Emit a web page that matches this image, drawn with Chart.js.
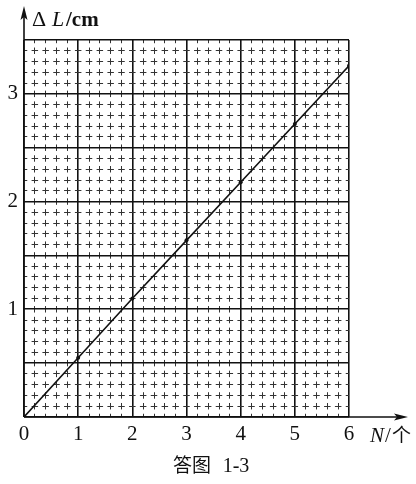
<!DOCTYPE html>
<html>
<head>
<meta charset="utf-8">
<script src="https://cdn.jsdelivr.net/npm/chart.js@4"></script>
<style>
  html, body { margin: 0; padding: 0; background: #fff; }
  #wrap { width: 416px; height: 484px; }
</style>
</head>
<body>
<div id="wrap"><canvas id="chart" width="416" height="484"></canvas></div>
<script>
// values
const nValues = [0, 1, 2, 3, 4, 5, 6];
const deltaL = [0, 0.55, 1.1, 1.64, 2.18, 2.72, 3.26];
const xTickLabels = ["0", "1", "2", "3", "4", "5", "6"];
const yTickLabels = ["1", "2", "3"];

const isInt = (v) => Math.abs(v - Math.round(v)) < 1e-6;
const isHalf = (v) => isInt(v * 2);

// axis arrows, axis titles and caption
const axisDecor = {
    id: "axisDecor",
    afterDraw(chart) {
        const ctx = chart.ctx;
        const x0 = chart.scales.x.getPixelForValue(0);
        const y0 = chart.scales.y.getPixelForValue(0);
        ctx.save();
        ctx.strokeStyle = "#111";
        ctx.fillStyle = "#111";
        ctx.lineWidth = 1.6;
        ctx.beginPath();
        ctx.moveTo(x0, y0);
        ctx.lineTo(x0, 14);
        ctx.moveTo(x0, y0);
        ctx.lineTo(400, y0);
        ctx.stroke();
        // arrow heads
        ctx.beginPath();
        ctx.moveTo(x0, 6);
        ctx.lineTo(x0 - 3.5, 20);
        ctx.lineTo(x0, 17);
        ctx.lineTo(x0 + 3.5, 20);
        ctx.closePath();
        ctx.fill();
        ctx.beginPath();
        ctx.moveTo(408, y0);
        ctx.lineTo(394, y0 - 3.5);
        ctx.lineTo(397, y0);
        ctx.lineTo(394, y0 + 3.5);
        ctx.closePath();
        ctx.fill();

        ctx.textBaseline = "alphabetic";
        ctx.textAlign = "left";
        // ΔL/cm
        ctx.font = "22px 'Liberation Serif'";
        ctx.fillText("Δ", 32, 26);
        ctx.font = "italic 22px 'Liberation Serif'";
        ctx.fillText("L", 52, 26);
        ctx.font = "bold 21px 'Liberation Serif'";
        ctx.fillText("/cm", 66, 26);
        // N/个
        ctx.font = "italic 21px 'Liberation Serif'";
        ctx.fillText("N", 370, 442);
        ctx.font = "21px 'Liberation Serif'";
        ctx.fillText("/", 385, 442);
        ctx.font = "19px 'Noto Sans CJK SC'";
        ctx.fillText("个", 392, 442);
        // caption
        ctx.textAlign = "center";
        ctx.font = "19px 'Noto Sans CJK SC'";
        ctx.fillText("答图", 192, 472);
        ctx.font = "20px 'Liberation Serif'";
        ctx.fillText("1-3", 236, 472);
        ctx.restore();
    },
};

// dashes centred on the minor grid crossings
const minorDash = (period) => [period * 0.6, period * 0.4];
const minorOffset = (period) => period * 0.3;

const canvas = document.getElementById("chart");
const chart = new Chart(canvas, {
    type: "line",
    data: {
        datasets: [
            {
                data: nValues.map((n, i) => ({ x: n, y: deltaL[i] })),
                borderColor: "#111",
                borderWidth: 1.6,
                pointRadius: 2,
                pointBackgroundColor: "#111",
                pointBorderColor: "#111",
                pointBorderWidth: 0,
                tension: 0,
            },
        ],
    },
    options: {
        responsive: false,
        animation: false,
        layout: { padding: { top: 40, right: 67, left: 0, bottom: 0 } },
        plugins: {
            legend: { display: false },
            tooltip: { enabled: false },
        },
        scales: {
            x: {
                type: "linear",
                min: 0,
                max: 6,
                afterFit: (s) => { s.height = 67; },
                afterBuildTicks: (s) => {
                    const t = [];
                    for (let i = 0; i <= 30; i++) t.push({ value: i / 5 });
                    s.ticks = t;
                },
                ticks: {
                    autoSkip: false,
                    maxRotation: 0,
                    padding: 5,
                    color: "#111",
                    font: { family: "'Liberation Serif'", size: 21 },
                    callback: (v) => (isInt(v) ? xTickLabels[Math.round(v)] : ""),
                },
                grid: {
                    drawTicks: false,
                    color: (c) => (isInt(c.tick.value) ? "#111" : "#333"),
                    lineWidth: (c) => (isInt(c.tick.value) ? 1.6 : 1),
                },
                border: {
                    display: false,
                    dash: (c) => {
                        if (!c.tick || isInt(c.tick.value)) return [];
                        return minorDash(c.chart.chartArea.height / 35);
                    },
                    dashOffset: (c) => minorOffset(c.chart.chartArea.height / 35),
                },
            },
            y: {
                type: "linear",
                min: 0,
                max: 3.5,
                afterFit: (s) => { s.width = 24; },
                afterBuildTicks: (s) => {
                    const t = [];
                    for (let i = 0; i <= 35; i++) t.push({ value: i / 10 });
                    s.ticks = t;
                },
                ticks: {
                    autoSkip: false,
                    padding: 6,
                    color: "#111",
                    font: { family: "'Liberation Serif'", size: 21 },
                    callback: (v) => {
                        if (!isInt(v) || Math.round(v) === 0) return "";
                        return yTickLabels[Math.round(v) - 1];
                    },
                },
                grid: {
                    drawTicks: false,
                    color: (c) => (isHalf(c.tick.value) ? "#111" : "#333"),
                    lineWidth: (c) => (isHalf(c.tick.value) ? 1.6 : 1),
                },
                border: {
                    display: false,
                    dash: (c) => {
                        if (!c.tick || isHalf(c.tick.value)) return [];
                        return minorDash(c.chart.chartArea.width / 30);
                    },
                    dashOffset: (c) => minorOffset(c.chart.chartArea.width / 30),
                },
            },
        },
    },
    plugins: [axisDecor],
});
</script>
</body>
</html>
